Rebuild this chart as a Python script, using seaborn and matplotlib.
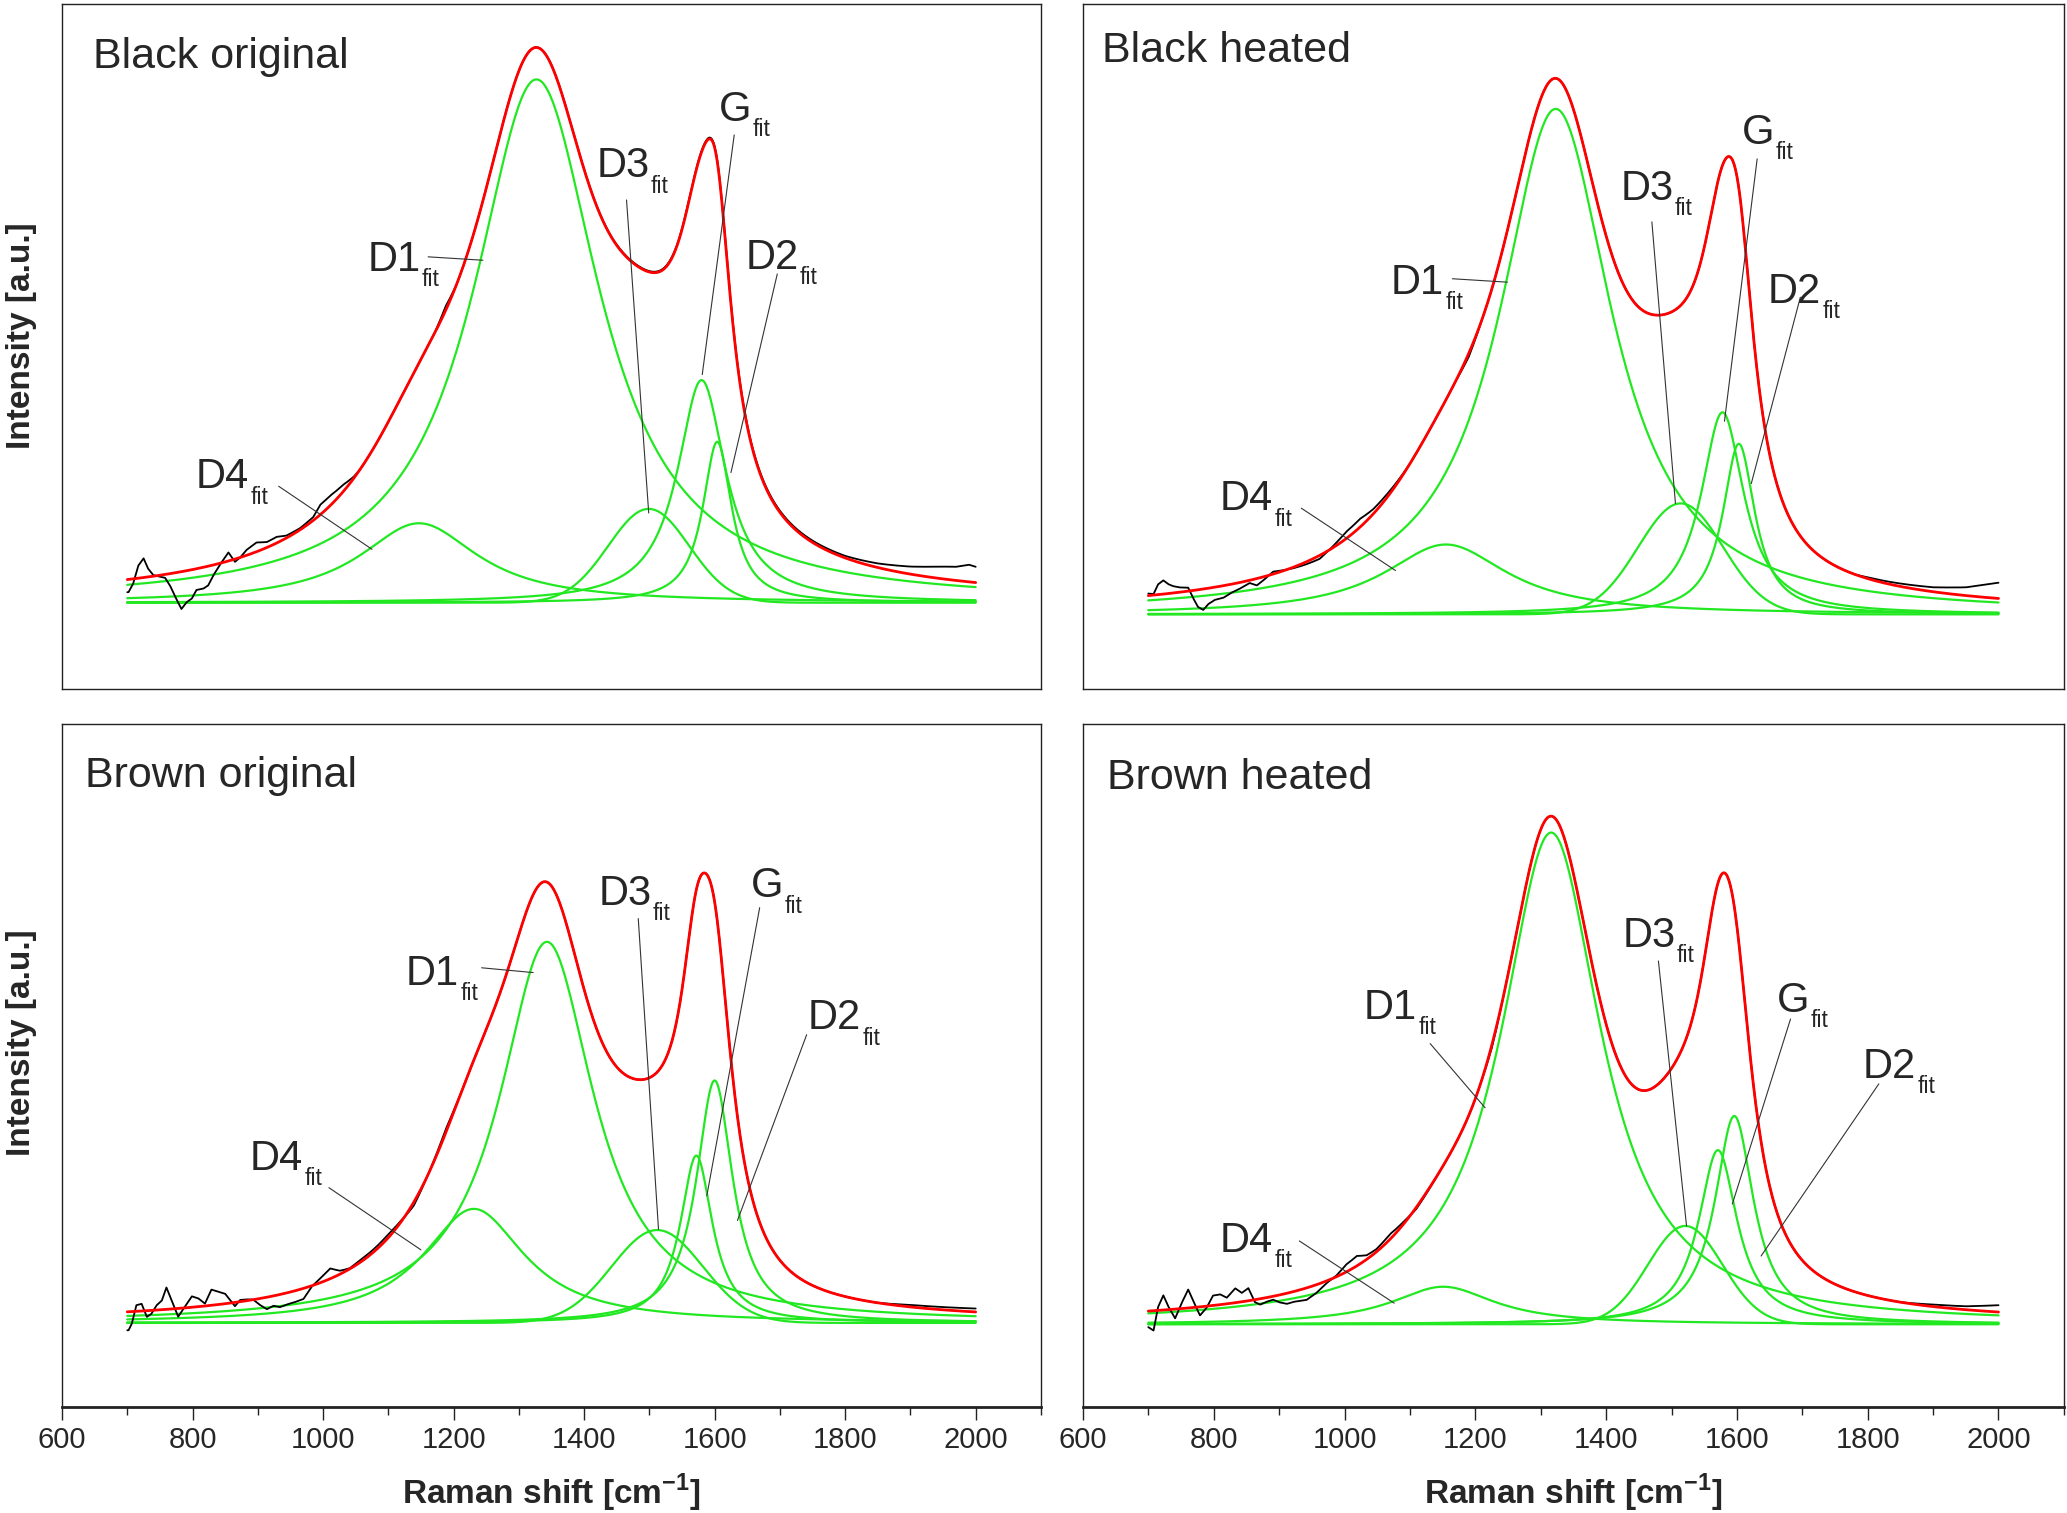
import numpy as np
import pandas as pd
import matplotlib
matplotlib.use('Agg')
import matplotlib.pyplot as plt
import seaborn as sns

# ---- data ----------------------------------------------------------------
panel_names = ['Black original', 'Black heated', 'Brown original', 'Brown heated']

# fitted bands: centre [cm-1], height [% of panel height], half width [cm-1]
d1_center = [1327, 1323, 1343, 1316]
d1_height = [76.4, 73.8, 55.8, 72.0]
d1_hwhm = [118, 105, 88, 93]

g_center = [1580, 1578, 1572, 1571]
g_height = [32.5, 29.5, 24.5, 25.5]
g_hwhm = [45, 40, 30, 36]

d2_center = [1604, 1603, 1600, 1596]
d2_height = [23.5, 24.9, 35.5, 30.5]
d2_hwhm = [27, 30, 34, 36]

d3_center = [1499, 1514, 1512, 1521]
d3_height = [13.7, 16.2, 13.6, 14.4]
d3_sigma = [62, 65, 70, 57]

d4_center = [1147, 1155, 1231, 1151]
d4_height = [11.6, 10.2, 16.7, 5.5]
d4_hwhm = [110, 115, 95, 96]

# level of the fit baseline above the frame bottom [% of panel height]
baseline_level = [12.6, 10.9, 12.3, 12.1]

# measured spectrum minus fit (only where they visibly differ)
bo_noise_x = [702, 709, 717, 725, 732, 740, 750, 758, 766, 773,
              783, 791, 799, 806, 817, 824, 832, 842, 855, 865,
              873, 883, 898, 914, 929, 944, 965, 985, 996, 1011,
              1031, 1047, 1057, 1120, 1170, 1188, 1205, 1250, 1800, 1850,
              1900, 1950, 1970, 1990, 2000]
bo_noise = [-1.85, -0.7, 1.85, 2.8, 1.2, 0.15, -0.2, -0.5, -1.85, -3.4,
            -5.45, -4.6, -4.2, -3.1, -3.1, -2.8, -1.5, -0.2, 1.25, -0.4,
            0, 0.8, 1.35, 0.8, 0.9, 0.35, 0.25, 0.5, 1.45, 1.45,
            1.0, 0.25, 0, 0, 0, 0.6, 0, 0, 0.3, 0.6,
            1.1, 1.8, 2.0, 2.5, 2.3]

bh_noise_x = [700, 708, 715, 723, 731, 738, 748, 761, 769, 776,
              784, 792, 802, 815, 827, 840, 855, 866, 876, 891,
              906, 922, 942, 962, 983, 1003, 1024, 1044, 1064, 1100,
              1170, 1190, 1210, 1780, 1800, 1900, 1950, 1990, 2000]
bh_noise = [0.3, 0.15, 1.5, 2.0, 1.35, 1.0, 0.7, 0.5, -1.2, -2.5,
            -3.05, -2.3, -1.85, -1.75, -1.25, -0.9, -0.4, -1.0, -0.5, 0.35,
            0.1, -0.15, -0.35, -0.5, 0.25, 1.0, 1.2, 0.7, 0.5, 0,
            0, -0.5, 0, 0, 0.2, 0.65, 1.2, 2.1, 2.3]

bro_noise_x = [702, 707, 714, 722, 730, 737, 745, 753, 760, 768,
               778, 788, 799, 809, 819, 829, 840, 850, 858, 865,
               873, 883, 893, 904, 914, 924, 934, 944, 957, 970,
               983, 995, 1011, 1026, 1041, 1057, 1077, 1098, 1118, 1139,
               1160, 1188, 1210, 1850, 1900, 1950, 2000]
bro_noise = [-2.7, -1.75, 0.9, 1.05, -0.9, -0.5, 0.7, 1.35, 3.2, 1.25,
             -1.2, 0.15, 1.6, 1.2, 0.35, 2.3, 1.85, 1.45, 0.4, -0.55,
             0.25, 0.2, 0, -1.0, -1.75, -1.45, -1.85, -1.7, -1.65, -1.55,
             -0.1, 0.6, 1.5, 0.5, 0.1, 0.35, 0.4, 0.5, 0.25, -0.5,
             0, 0.5, 0, 0, 0.3, 0.4, 0.5]

brh_noise_x = [700, 708, 715, 723, 731, 741, 751, 761, 769, 779,
               789, 799, 810, 820, 833, 843, 853, 863, 871, 881,
               891, 901, 912, 922, 932, 942, 957, 973, 988, 1003,
               1019, 1034, 1049, 1070, 1090, 1110, 1150, 1210, 1225, 1245,
               1850, 1900, 1950, 2000]
brh_noise = [-2.35, -2.9, 0.5, 2.15, 0.4, -1.35, 0.8, 2.7, 0.9, -1.25,
             -0.25, 1.45, 1.5, 0.9, 2.1, 1.3, 1.85, -0.35, -0.85, -0.6,
             -0.5, -1.1, -1.55, -1.5, -1.6, -1.75, -1.2, -0.3, 0.2, 1.1,
             1.45, 0.6, 0.4, 0.75, 0.35, -0.25, 0, 0, -0.4, 0,
             0, 0.3, 0.5, 1.0]

noise_x = [bo_noise_x, bh_noise_x, bro_noise_x, brh_noise_x]
noise_y = [bo_noise, bh_noise, bro_noise, brh_noise]

major_ticks = [600, 800, 1000, 1200, 1400, 1600, 1800, 2000]
minor_ticks = [700, 900, 1100, 1300, 1500, 1700, 1900, 2100]

# ---- style ----------------------------------------------------------------
sns.set_style('white')
plt.rcParams['font.family'] = ['Liberation Sans', 'DejaVu Sans']
plt.rcParams['mathtext.fontset'] = 'custom'
plt.rcParams['mathtext.rm'] = 'Liberation Sans'
plt.rcParams['mathtext.bf'] = 'Liberation Sans:bold'

GREEN = '#22e822'
RED = '#ff0000'
FRAME = '#222222'


def lorentz(x, c, h, w):
    return h / (1.0 + ((x - c) / w) ** 2)


def gauss(x, c, h, s):
    return h * np.exp(-0.5 * ((x - c) / s) ** 2)


def components(i, x):
    return {
        'D1': lorentz(x, d1_center[i], d1_height[i], d1_hwhm[i]),
        'D2': lorentz(x, d2_center[i], d2_height[i], d2_hwhm[i]),
        'D3': gauss(x, d3_center[i], d3_height[i], d3_sigma[i]),
        'D4': lorentz(x, d4_center[i], d4_height[i], d4_hwhm[i]),
        'G': lorentz(x, g_center[i], g_height[i], g_hwhm[i]),
    }


# label text (left, baseline) and leader line (start -> end), data coords
label_layout = [
    {'D1': (1068, 48.4, 1161, 50.5, 1245, 50.0),
     'D4': (805, 16.7, 932, 17.0, 1075, 7.8),
     'D3': (1419, 62.1, 1465, 58.8, 1499, 13.1),
     'G': (1606, 70.3, 1630, 68.3, 1581, 33.3),
     'D2': (1647, 48.7, 1696, 48.0, 1625, 19.0)},
    {'D1': (1071, 46.8, 1165, 49.0, 1249, 48.5),
     'D4': (809, 15.2, 934, 15.5, 1078, 6.4),
     'D3': (1422, 60.5, 1470, 57.3, 1506, 16.2),
     'G': (1608, 68.7, 1631, 66.5, 1581, 28.2),
     'D2': (1647, 45.5, 1697, 46.3, 1622, 19.1)},
    {'D1': (1127, 49.5, 1243, 52.0, 1322, 51.3),
     'D4': (888, 22.4, 1009, 19.8, 1150, 10.7),
     'D3': (1422, 61.2, 1483, 59.2, 1514, 13.7),
     'G': (1655, 62.3, 1669, 60.8, 1588, 18.6),
     'D2': (1743, 43.0, 1741, 42.2, 1635, 15.0)},
    {'D1': (1030, 44.7, 1131, 41.1, 1215, 31.7),
     'D4': (809, 10.6, 931, 12.2, 1076, 3.1),
     'D3': (1425, 55.3, 1480, 53.2, 1523, 14.4),
     'G': (1661, 45.7, 1682, 44.7, 1593, 17.6),
     'D2': (1793, 36.1, 1817, 35.2, 1637, 10.0)},
]

title_pos = [(0.032, 0.907), (0.019, 0.915), (0.023, 0.907), (0.025, 0.905)]

axes_rects = [
    (0.0300, 0.5446, 0.4736, 0.4527),
    (0.5239, 0.5446, 0.4746, 0.4527),
    (0.0300, 0.0701, 0.4736, 0.4514),
    (0.5239, 0.0701, 0.4746, 0.4514),
]


def put_label(ax, name, tx, ty, x0, y0, x1, y1):
    t = ax.text(tx, ty, name, fontsize=30, ha='left', va='baseline')
    ax.annotate('fit', xy=(1, 0), xycoords=t, xytext=(1, -4.5),
                textcoords='offset points', fontsize=16.5,
                ha='left', va='baseline')
    ax.plot([x0, x1], [y0, y1], color='#333333', lw=0.8)


fig = plt.figure(figsize=(20.67, 15.13), dpi=100)
x = np.arange(700, 2000.5, 1.0)

for i, name in enumerate(panel_names):
    ax = fig.add_axes(axes_rects[i])
    comps = components(i, x)
    total = sum(comps.values())

    parts = []
    for key, curve in comps.items():
        parts.append(pd.DataFrame({'shift': x, 'intensity': curve, 'band': key}))
    df_parts = pd.concat(parts, ignore_index=True)
    sns.lineplot(data=df_parts, x='shift', y='intensity', hue='band',
                 palette={k: GREEN for k in comps}, lw=1.6, legend=False,
                 estimator=None, sort=False, ax=ax)

    measured = total + np.interp(x, noise_x[i], noise_y[i])
    df_meas = pd.DataFrame({'shift': x, 'intensity': measured})
    sns.lineplot(data=df_meas, x='shift', y='intensity', color='black',
                 lw=1.3, estimator=None, sort=False, ax=ax)

    df_fit = pd.DataFrame({'shift': x, 'intensity': total})
    sns.lineplot(data=df_fit, x='shift', y='intensity', color=RED,
                 lw=2.0, estimator=None, sort=False, ax=ax)

    for key, pos in label_layout[i].items():
        put_label(ax, key, *pos)

    ax.text(title_pos[i][0], title_pos[i][1], name, transform=ax.transAxes,
            fontsize=31, ha='left', va='baseline')

    ax.set_xlim(600, 2100)
    ax.set_ylim(-baseline_level[i], 100 - baseline_level[i])
    ax.set_xlabel('')
    ax.set_ylabel('')
    ax.set_yticks([])
    for sp in ax.spines.values():
        sp.set_visible(True)
        sp.set_color(FRAME)
        sp.set_linewidth(1.0)

    if i < 2:
        ax.set_xticks([])
    else:
        ax.set_xticks(major_ticks)
        ax.set_xticks(minor_ticks, minor=True)
        ax.tick_params(axis='x', which='major', direction='out', length=9.5,
                       width=1.0, color=FRAME, labelsize=21, pad=4,
                       bottom=True)
        ax.tick_params(axis='x', which='minor', direction='out', length=5.5,
                       width=1.0, color=FRAME, bottom=True)
        ax.spines['bottom'].set_linewidth(2.0)

# axis titles
for yc in (0.778, 0.311):
    fig.text(0.0104, yc, 'Intensity [a.u.]', rotation=90, fontsize=24,
             fontweight='bold', ha='center', va='center')
for xc in (0.0300 + 0.4736 / 2, 0.5239 + 0.4746 / 2):
    fig.text(xc, 0.006, r'Raman shift [cm$^{\mathbf{-1}}$]', fontsize=24,
             fontweight='bold', ha='center', va='baseline')

fig.savefig('out.png', dpi=100, facecolor='white')
